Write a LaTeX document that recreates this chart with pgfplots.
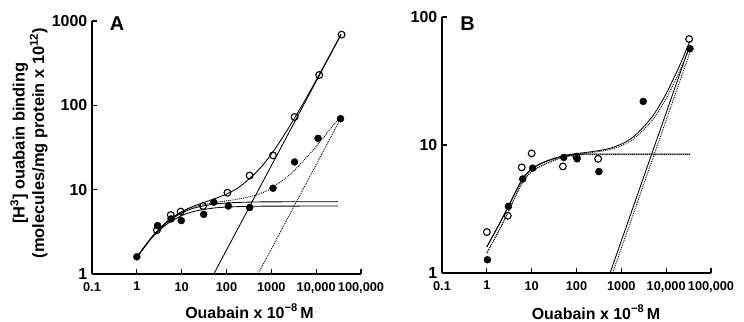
\documentclass[border=0pt]{standalone}
\usepackage{pgfplots}
\pgfplotsset{compat=1.18}
\usepackage{fontspec}
\setmainfont{Liberation Sans}
\tikzset{
 curveS/.style={line width=0.85bp, black, smooth, tension=0.5},
 curveD/.style={line width=0.9bp, black, densely dotted, smooth, tension=0.5},
 lineS/.style={line width=0.85bp, black},
 lineD/.style={line width=0.9bp, black, densely dotted},
}
\begin{document}
\begin{tikzpicture}
\useasboundingbox (0,0) rectangle (744bp,322bp);
% ---------------- Panel A ----------------
\begin{axis}[xmode=log, ymode=log, scale only axis, width=269bp, height=253bp,
  at={(92bp,48bp)}, anchor=south west,
  axis x line=bottom, axis y line=left,
  axis line style={-, line width=1.3bp, black},
  xmin=0.1, xmax=100000,
  xtick={0.1,1,10,100,1000,10000,100000},
  xticklabels={{\textbf{0.1}},{\textbf{1}},{\textbf{10}},{\textbf{100}},{\textbf{1000}},{\textbf{10,000}},{\textbf{100,000}}},
  tick align=inside, major tick length=5bp,
  major tick style={line width=1.3bp, black},
  minor tick length=0pt,
  xticklabel style={font=\fontsize{12.8}{15}\selectfont, inner sep=0pt, yshift=-8bp},
  yticklabel style={font=\fontsize{16}{18}\selectfont, inner sep=0pt, xshift=-4.5bp},
  clip=false,
  ymin=1, ymax=1000, ytick={1,10,100,1000},
  yticklabels={{\textbf{1}},{\textbf{10}},{\textbf{100}},{\textbf{1000}}}]
\addplot[curveS, no marks] coordinates {(1,1.57)(2,2.57)(3,3.27)(5,4.19)(10,5.29)(20,6.1)(50,6.72)(100,6.95)(200,7.07)(500,7.15)(1000,7.17)(31000,7.2)};
\addplot[curveS, no marks] coordinates {(1,1.6)(2,2.56)(3,3.2)(5,4.0)(10,4.92)(20,5.57)(50,6.04)(100,6.21)(200,6.3)(500,6.36)(1000,6.38)(31000,6.4)};
\addplot[lineS, no marks] coordinates {(52,1)(36000,692)};
\addplot[lineD, no marks] coordinates {(505,1)(35000,69.3)};
\addplot[curveS, no marks] coordinates {(1,1.57)(2,2.61)(3,3.33)(5,4.29)(10,5.48)(20,6.48)(50,7.68)(100,8.87)(200,10.9)(500,16.8)(1000,26.4)(2000,45.7)(5000,103)(10000,199)(20000,392)(36000,699)};
\addplot[curveD, no marks] coordinates {(1,1.6)(2,2.6)(3,3.3)(5,4.3)(10,5.4)(20,6.3)(50,7.0)(71,7.2)(150,7.6)(333,8.26)(600,9.1)(1015,10.4)(2000,13.5)(3090,16.4)(5000,21.5)(8600,29.6)(15000,42.5)(24100,58.5)(34000,70)};
\addplot[only marks, mark=o, mark size=3.4bp, mark options={line width=1.1bp, fill=white, draw=black, solid}] coordinates {(2.8,3.3)(5.7,5.0)(9.5,5.5)(30,6.4)(105,9.2)(327,14.7)(1090,25.5)(3300,72.7)(11700,229)(36900,689)};
\addplot[only marks, mark=*, mark size=3.5bp, mark options={fill=black, draw=black, solid}] coordinates {(1,1.6)(2.9,3.75)(5.8,4.5)(9.8,4.3)(31,5.1)(52,7.1)(110,6.4)(330,6.15)(1090,10.4)(3300,21.3)(11000,40.6)(35000,69.5)};
\end{axis}
% ---------------- Panel B ----------------
\begin{axis}[xmode=log, ymode=log, scale only axis, width=269bp, height=256bp,
  at={(442bp,49bp)}, anchor=south west,
  axis x line=bottom, axis y line=left,
  axis line style={-, line width=1.3bp, black},
  xmin=0.1, xmax=100000,
  xtick={0.1,1,10,100,1000,10000,100000},
  xticklabels={{\textbf{0.1}},{\textbf{1}},{\textbf{10}},{\textbf{100}},{\textbf{1000}},{\textbf{10,000}},{\textbf{100,000}}},
  tick align=inside, major tick length=5bp,
  major tick style={line width=1.3bp, black},
  minor tick length=0pt,
  xticklabel style={font=\fontsize{12.8}{15}\selectfont, inner sep=0pt, yshift=-8bp},
  yticklabel style={font=\fontsize{16}{18}\selectfont, inner sep=0pt, xshift=-4.5bp},
  clip=false,
  ymin=1, ymax=100, ytick={1,10,100},
  yticklabels={{\textbf{1}},{\textbf{10}},{\textbf{100}}}]
\addplot[curveS, no marks] coordinates {(1,1.6)(2,2.5)(3,3.3)(6,5.3)(10,6.5)(20,7.4)(50,8.15)(100,8.4)(200,8.5)(34000,8.5)};
\addplot[curveD, no marks] coordinates {(1,1.43)(2,2.25)(3,3.0)(6,5.0)(10,6.2)(20,7.1)(50,8.0)(100,8.3)(200,8.4)(34000,8.4)};
\addplot[lineS, no marks] coordinates {(560,1)(34000,60.7)};
\addplot[lineD, no marks] coordinates {(640,1)(34000,53.1)};
\addplot[curveS, no marks] coordinates {(1,1.6)(2,2.5)(3,3.3)(6,5.3)(10,6.5)(20,7.43)(50,8.23)(100,8.57)(200,8.83)(500,9.33)(1000,10.17)(2000,11.83)(5000,16.83)(10000,25.2)(20000,41.8)(34000,65.2)};
\addplot[curveD, no marks] coordinates {(1,1.43)(2,2.25)(3,3.0)(6,5.0)(10,6.2)(20,7.1)(50,8.07)(100,8.45)(200,8.69)(500,9.14)(1000,9.87)(2000,11.34)(5000,15.75)(10000,23.1)(20000,37.8)(34000,58.4)};
\addplot[only marks, mark=o, mark size=3.4bp, mark options={line width=1.1bp, fill=white, draw=black, solid}] coordinates {(1,2.09)(2.93,2.8)(6.0,6.69)(10,8.6)(49.7,6.8)(100,8.1)(304,7.8)(32500,67.3)};
\addplot[only marks, mark=*, mark size=3.5bp, mark options={fill=black, draw=black, solid}] coordinates {(1.03,1.27)(3.03,3.32)(6.3,5.43)(10.5,6.6)(52,8.0)(103,7.8)(316,6.2)(3080,21.9)(34000,56.6)};
\end{axis}
% ---------------- Text ----------------
\node[font=\bfseries\fontsize{20}{22}\selectfont] at (117bp,298.5bp) {A};
\node[font=\bfseries\fontsize{20}{22}\selectfont] at (467.5bp,298bp) {B};
\node[rotate=90, align=center, font=\bfseries\fontsize{16.5}{19.5}\selectfont] at (29bp,179bp)
  {[H\textsuperscript{3}] ouabain binding\\(molecules/mg protein x 10\textsuperscript{12})};
\node[anchor=base, font=\bfseries\fontsize{16}{18}\selectfont] at (249.5bp,4bp) {Ouabain x 10\textsuperscript{−8}\,M};
\node[anchor=base, font=\bfseries\fontsize{16}{18}\selectfont] at (596bp,3bp) {Ouabain x 10\textsuperscript{−8}\,M};
\end{tikzpicture}
\end{document}
